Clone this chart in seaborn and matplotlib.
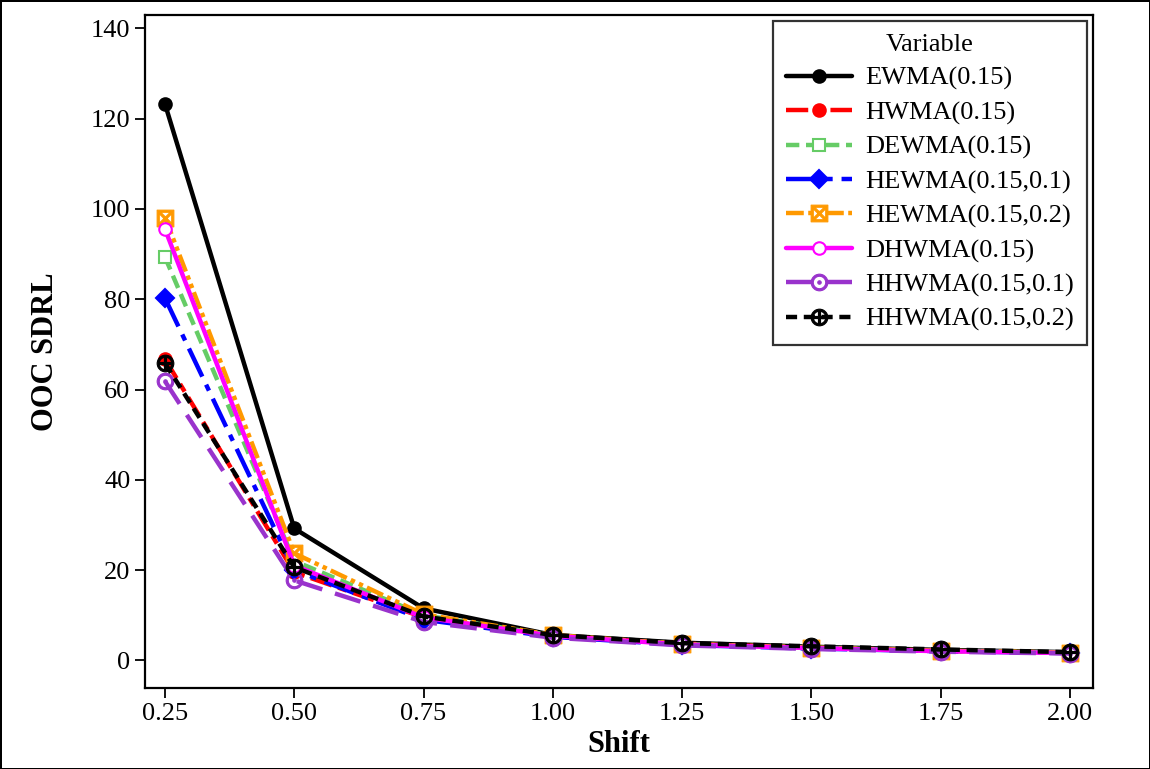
import numpy as np
import pandas as pd
import matplotlib
matplotlib.use("Agg")
import matplotlib.pyplot as plt
import seaborn as sns

# data
shift = [0.25, 0.50, 0.75, 1.00, 1.25, 1.50, 1.75, 2.00]
ewma_015 = [123.2, 29.2, 11.5, 5.6, 3.9, 3.0, 2.3, 1.8]
hwma_015 = [66.7, 19.5, 9.5, 5.4, 3.7, 2.8, 2.1, 1.7]
dewma_015 = [89.3, 22.0, 10.0, 5.5, 3.6, 2.8, 2.1, 1.7]
hewma_015_01 = [80.2, 20.0, 9.0, 5.2, 3.4, 2.6, 2.0, 1.6]
hewma_015_02 = [98.1, 23.7, 10.2, 5.6, 3.6, 2.8, 2.1, 1.7]
dhwma_015 = [95.5, 21.0, 9.5, 5.4, 3.5, 2.7, 2.0, 1.6]
hhwma_015_01 = [61.8, 17.7, 8.5, 5.0, 3.3, 2.5, 1.9, 1.5]
hhwma_015_02 = [65.8, 20.6, 9.7, 5.6, 3.8, 3.1, 2.4, 1.8]

names = ["EWMA(0.15)", "HWMA(0.15)", "DEWMA(0.15)", "HEWMA(0.15,0.1)",
         "HEWMA(0.15,0.2)", "DHWMA(0.15)", "HHWMA(0.15,0.1)", "HHWMA(0.15,0.2)"]
series = [ewma_015, hwma_015, dewma_015, hewma_015_01,
          hewma_015_02, dhwma_015, hhwma_015_01, hhwma_015_02]

df = pd.DataFrame({
    "Shift": np.tile(shift, len(names)),
    "OOC SDRL": np.concatenate(series),
    "Variable": np.repeat(names, len(shift)),
})

# per-series look: colour, dash pattern, marker, marker face
styles = {
    "EWMA(0.15)":      dict(color="black",   ls="-",                      marker="o", mfc="black"),
    "HWMA(0.15)":      dict(color="#ff0000", ls=(0, (5, 1.5, 2, 1.5)),    marker="o", mfc="#ff0000"),
    "DEWMA(0.15)":     dict(color="#66cc66", ls=(0, (3, 1.5)),            marker="s", mfc="white"),
    "HEWMA(0.15,0.1)": dict(color="#0000ff", ls=(0, (7, 2, 1.5, 2)),      marker="D", mfc="#0000ff"),
    "HEWMA(0.15,0.2)": dict(color="#ff9900", ls=(0, (4, 1, 1, 1, 1, 1)),  marker="$\\boxtimes$", mfc="#ff9900"),
    "DHWMA(0.15)":     dict(color="#ff00ff", ls="-",                      marker="o", mfc="white"),
    "HHWMA(0.15,0.1)": dict(color="#9933cc", ls=(0, (6, 3)),              marker="$\\odot$", mfc="#9933cc"),
    "HHWMA(0.15,0.2)": dict(color="black",   ls=(0, (2.5, 1.5)),          marker="$\\oplus$", mfc="black"),
}

sns.set_theme(style="ticks")
plt.rcParams["font.family"] = ["Liberation Serif", "DejaVu Serif"]
plt.rcParams["mathtext.fontset"] = "dejavuserif"
plt.rcParams["text.color"] = "black"
plt.rcParams["axes.labelcolor"] = "black"

fig = plt.figure(figsize=(11.5, 7.69), dpi=100)
fig.patch.set_edgecolor("black")
fig.patch.set_linewidth(2)
ax = fig.add_axes([0.126, 0.105, 0.824, 0.875])

for name in names:
    st = styles[name]
    sub = df[df["Variable"] == name]
    is_tex = st["marker"].startswith("$")
    sns.lineplot(data=sub, x="Shift", y="OOC SDRL", ax=ax, label=name,
                 color=st["color"], linestyle=st["ls"], linewidth=3.2,
                 marker=st["marker"], markersize=12 if is_tex else 9,
                 markerfacecolor=st["mfc"], markeredgecolor=st["color"],
                 markeredgewidth=0.8 if is_tex else 1.5)

ax.set_xlim(0.211, 2.044)
ax.set_ylim(-6.2, 142.9)
ax.set_xticks(shift)
ax.set_xticklabels([f"{s:.2f}" for s in shift])
ax.set_yticks(range(0, 141, 20))
ax.tick_params(axis="both", labelsize=19, length=7, width=1.3, colors="black")
for sp in ax.spines.values():
    sp.set_visible(True)
    sp.set_linewidth(1.6)
    sp.set_color("black")

ax.set_xlabel("Shift", fontsize=22, fontweight="bold", labelpad=4)
ax.set_ylabel("OOC SDRL", fontsize=22, fontweight="bold", labelpad=22)

leg = ax.legend(title="Variable", loc="upper right", fontsize=19, title_fontsize=19,
                frameon=True, fancybox=False, edgecolor="black", handlelength=2.5,
                borderaxespad=0.2, labelspacing=0.4, borderpad=0.5, handletextpad=0.5)
leg.get_frame().set_linewidth(1.6)

fig.savefig("out.png", dpi=100)
